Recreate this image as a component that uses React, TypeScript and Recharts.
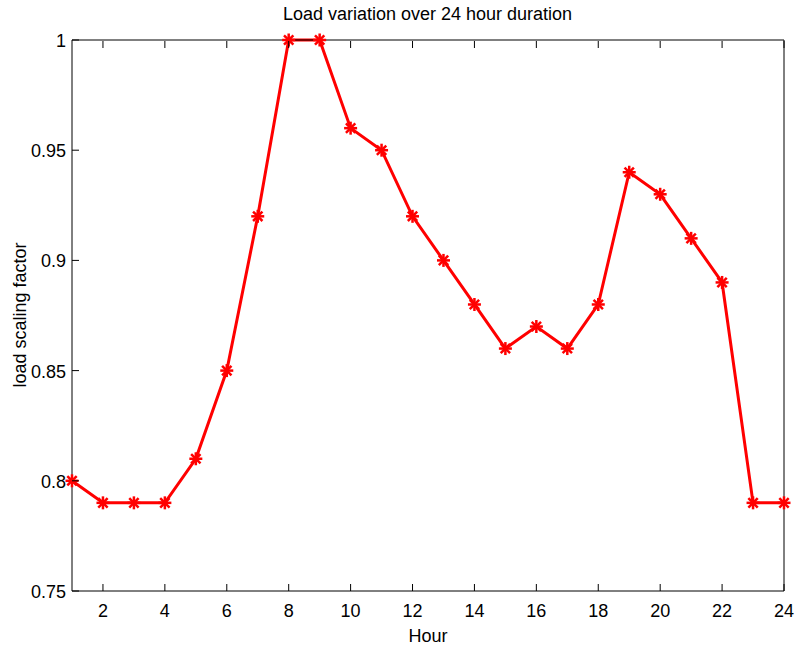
import React from "react";
import { LineChart, Line, XAxis, YAxis } from "recharts";

const hours = [1, 2, 3, 4, 5, 6, 7, 8, 9, 10, 11, 12, 13, 14, 15, 16, 17, 18, 19, 20, 21, 22, 23, 24];
const loadFactor = [
  0.8, 0.79, 0.79, 0.79, 0.81, 0.85, 0.92, 1.0, 1.0, 0.96, 0.95, 0.92,
  0.9, 0.88, 0.86, 0.87, 0.86, 0.88, 0.94, 0.93, 0.91, 0.89, 0.79, 0.79,
];
const xTicks = [2, 4, 6, 8, 10, 12, 14, 16, 18, 20, 22, 24];
const yTicks = [0.75, 0.8, 0.85, 0.9, 0.95, 1];

const data = hours.map((h, i) => ({ hour: h, load: loadFactor[i] }));

const FONT = "Arial, 'Liberation Sans', sans-serif";
const TICK = 7;

const BottomTick = ({ x, y, payload }: any) => (
  <g>
    <line x1={x} y1={y} x2={x} y2={y - TICK} stroke="#000" />
    <text x={x} y={y + 26} textAnchor="middle" fontSize={18} fontFamily={FONT} fill="#000">
      {payload.value}
    </text>
  </g>
);

// top axis sits 1px above the plot, so ticks start from its bottom edge
const TopTick = ({ x, y }: any) => (
  <line x1={x} y1={y + 1} x2={x} y2={y + 1 + TICK} stroke="#000" />
);

const LeftTick = ({ x, y, payload }: any) => (
  <g>
    <line x1={x} y1={y} x2={x + TICK} y2={y} stroke="#000" />
    <text x={x - 6} y={y + 7} textAnchor="end" fontSize={18} fontFamily={FONT} fill="#000">
      {payload.value}
    </text>
  </g>
);

const RightTick = ({ x, y }: any) => (
  <line x1={x - 1} y1={y} x2={x - 1 - TICK} y2={y} stroke="#000" />
);

const Star = ({ cx, cy, index }: any) => {
  const r = 6.5;
  const d = r * 0.72;
  return (
    <g key={index} stroke="#ff0000" strokeWidth={2.5}>
      <line x1={cx - r} y1={cy} x2={cx + r} y2={cy} />
      <line x1={cx} y1={cy - r} x2={cx} y2={cy + r} />
      <line x1={cx - d} y1={cy - d} x2={cx + d} y2={cy + d} />
      <line x1={cx - d} y1={cy + d} x2={cx + d} y2={cy - d} />
    </g>
  );
};

export default function App() {
  return (
    <div style={{ position: "absolute", left: 0, top: 0, width: 795, height: 652, background: "#fff" }}>
      <div
        style={{
          position: "absolute",
          top: 4,
          left: 0,
          width: 855,
          textAlign: "center",
          fontFamily: FONT,
          fontSize: 18,
          color: "#000",
        }}
      >
        Load variation over 24 hour duration
      </div>
      <div
        style={{
          position: "absolute",
          top: 626,
          left: 72,
          width: 712,
          textAlign: "center",
          fontFamily: FONT,
          fontSize: 18,
          color: "#000",
        }}
      >
        Hour
      </div>
      <div
        style={{
          position: "absolute",
          left: 20,
          top: 315,
          transform: "translate(-50%, -50%) rotate(-90deg)",
          whiteSpace: "nowrap",
          fontFamily: FONT,
          fontSize: 18,
          color: "#000",
        }}
      >
        load scaling factor
      </div>
      <LineChart width={795} height={652} data={data} margin={{ top: 39, right: 10, bottom: 0, left: 0 }}>
        <XAxis
          xAxisId="bottom"
          dataKey="hour"
          type="number"
          domain={[1, 24]}
          ticks={xTicks}
          orientation="bottom"
          height={61}
          tickSize={0}
          tickMargin={0}
          tickLine={false}
          axisLine={{ stroke: "#000" }}
          tick={<BottomTick />}
          interval={0}
        />
        <XAxis
          xAxisId="top"
          dataKey="hour"
          type="number"
          domain={[1, 24]}
          ticks={xTicks}
          orientation="top"
          height={1}
          tickSize={0}
          tickMargin={0}
          tickLine={false}
          axisLine={{ stroke: "#000" }}
          tick={<TopTick />}
          interval={0}
        />
        <YAxis
          yAxisId="left"
          type="number"
          domain={[0.75, 1]}
          ticks={yTicks}
          orientation="left"
          width={72}
          tickSize={0}
          tickMargin={0}
          tickLine={false}
          axisLine={{ stroke: "#000" }}
          tick={<LeftTick />}
          interval={0}
        />
        <YAxis
          yAxisId="right"
          type="number"
          domain={[0.75, 1]}
          ticks={yTicks}
          orientation="right"
          width={1}
          tickSize={0}
          tickMargin={0}
          tickLine={false}
          axisLine={{ stroke: "#000" }}
          tick={<RightTick />}
          interval={0}
        />
        <Line
          xAxisId="bottom"
          yAxisId="left"
          type="linear"
          dataKey="load"
          stroke="#ff0000"
          strokeWidth={3}
          dot={<Star />}
          activeDot={false}
          isAnimationActive={false}
        />
      </LineChart>
    </div>
  );
}
